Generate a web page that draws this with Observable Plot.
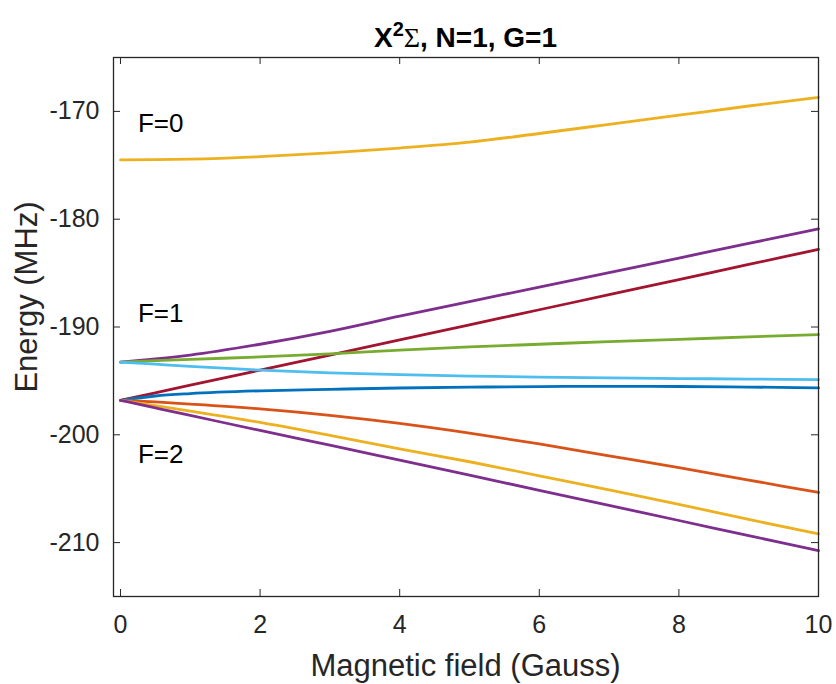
<!DOCTYPE html>
<html><head><meta charset="utf-8">
<script src="https://cdn.jsdelivr.net/npm/d3@7"></script>
<script src="https://cdn.jsdelivr.net/npm/@observablehq/plot@0.6"></script>
<style>
body{margin:0;background:#fff}
svg{font-family:"Liberation Sans",Arial,Helvetica,sans-serif}
</style>
</head><body><div id="chart"></div>
<script>
// Magnetic field (Gauss)
const field = [0, 0.5, 1, 2, 3, 4, 5, 6, 7, 8, 9, 10];
// Energy levels (MHz)
const F0 =          [-174.5, -174.48, -174.43, -174.2, -173.85, -173.4, -172.85, -172.05, -171.2, -170.35, -169.5, -168.7];
const F1_purple =   [-193.25, -192.95, -192.6, -191.6, -190.4, -189.0, -187.65, -186.3, -184.95, -183.6, -182.25, -180.9];
const F2_darkred =  [-196.8, -196.1, -195.4, -194.0, -192.6, -191.2, -189.8, -188.4, -187.0, -185.6, -184.2, -182.8];
const F1_green =    [-193.25, -193.12, -193.0, -192.78, -192.5, -192.15, -191.85, -191.6, -191.35, -191.15, -190.92, -190.7];
const F1_lightblue =[-193.25, -193.45, -193.65, -194.0, -194.25, -194.42, -194.55, -194.65, -194.72, -194.78, -194.83, -194.88];
const F2_blue =     [-196.8, -196.4, -196.18, -195.92, -195.78, -195.66, -195.58, -195.53, -195.5, -195.52, -195.57, -195.65];
const F2_orange =   [-196.8, -196.95, -197.15, -197.6, -198.2, -198.95, -199.85, -200.85, -201.95, -203.05, -204.2, -205.35];
const F2_yellow =   [-196.8, -197.3, -197.8, -198.85, -200.05, -201.3, -202.5, -203.8, -205.1, -206.45, -207.85, -209.2];
const F2_purple =   [-196.8, -197.5, -198.2, -199.6, -200.95, -202.35, -203.75, -205.15, -206.55, -207.95, -209.35, -210.75];

const xTicks = [0, 2, 4, 6, 8, 10];
const yTicks = [-210, -200, -190, -180, -170];
const levelLabels = ["F=0", "F=1", "F=2"];
const levelLabelY = [-171.9, -189.5, -202.6];
const levelLabelX = [0.25, 0.25, 0.25];

const seriesList = [
  ["F0", F0], ["F1_purple", F1_purple], ["F2_darkred", F2_darkred], ["F1_green", F1_green],
  ["F1_lightblue", F1_lightblue], ["F2_blue", F2_blue], ["F2_orange", F2_orange],
  ["F2_yellow", F2_yellow], ["F2_purple", F2_purple]
];
const colors = {
  F0: "#EDB120", F1_purple: "#7E2F8E", F2_darkred: "#A2142F", F1_green: "#77AC30",
  F1_lightblue: "#4DBEEE", F2_blue: "#0072BD", F2_orange: "#D95319",
  F2_yellow: "#EDB120", F2_purple: "#7E2F8E"
};
const rows = [];
for (const [name, vals] of seriesList) vals.forEach((v, i) => rows.push({series: name, B: field[i], E: v}));
const labels = levelLabels.map((t, i) => ({t, x: levelLabelX[i], y: levelLabelY[i]}));

const W = 836, H = 684, mL = 113, mR = 18, mT = 57, mB = 88;
const pw = W - mL - mR, ph = H - mT - mB;
const axisColor = "#262626";
const font = '"Liberation Sans",Arial,sans-serif';

const svg = Plot.plot({
  width: W, height: H,
  marginLeft: mL, marginRight: mR, marginTop: mT, marginBottom: mB,
  style: {color: axisColor, background: "#fff", fontSize: "25px", fontFamily: font},
  x: {domain: [-0.1, 10]},
  y: {domain: [-215, -165]},
  marks: [
    Plot.line(rows, {x: "B", y: "E", z: "series", stroke: d => colors[d.series], strokeWidth: 2.8, curve: "monotone-x"}),
    Plot.tickY(yTicks, {y: d => d, insetRight: pw - 7, stroke: axisColor, strokeWidth: 1}),
    Plot.tickY(yTicks, {y: d => d, insetLeft: pw - 7, stroke: axisColor, strokeWidth: 1}),
    Plot.tickX(xTicks, {x: d => d, insetBottom: ph - 7, stroke: axisColor, strokeWidth: 1}),
    Plot.tickX(xTicks, {x: d => d, insetTop: ph - 7, stroke: axisColor, strokeWidth: 1}),
    Plot.frame({stroke: axisColor, strokeWidth: 1.3}),
    Plot.axisY(yTicks, {tickSize: 0, tickPadding: 14, label: null, fontSize: 25, tickFormat: d => String(d)}),
    Plot.axisX(xTicks, {tickSize: 0, tickPadding: 19, label: null, fontSize: 25, tickFormat: d => String(d)}),
    Plot.text(labels, {x: "x", y: "y", text: "t", textAnchor: "start", lineAnchor: "bottom", fontSize: 26, fill: "#000"})
  ]
});

const s = d3.select(svg);
const title = s.append("text")
  .attr("x", mL + pw / 2).attr("y", 47)
  .attr("text-anchor", "middle")
  .attr("font-weight", "bold").attr("font-size", 28).attr("fill", "#000")
  .attr("font-family", font);
title.append("tspan").text("X");
title.append("tspan").attr("dy", -11).attr("font-size", 20).text("2");
title.append("tspan").attr("dy", 11).attr("font-family", '"Liberation Serif","DejaVu Serif",serif').attr("font-weight", "normal").text("Σ");
title.append("tspan").text(", N=1, G=1");

s.append("text")
  .attr("x", mL + pw / 2).attr("y", 676)
  .attr("text-anchor", "middle").attr("font-size", 31).attr("fill", axisColor)
  .attr("font-family", font)
  .text("Magnetic field (Gauss)");

s.append("text")
  .attr("transform", "translate(37,297) rotate(-90)")
  .attr("text-anchor", "middle").attr("font-size", 31).attr("fill", axisColor)
  .attr("font-family", font)
  .text("Energy (MHz)");

document.getElementById("chart").appendChild(svg);
</script>
</body></html>
